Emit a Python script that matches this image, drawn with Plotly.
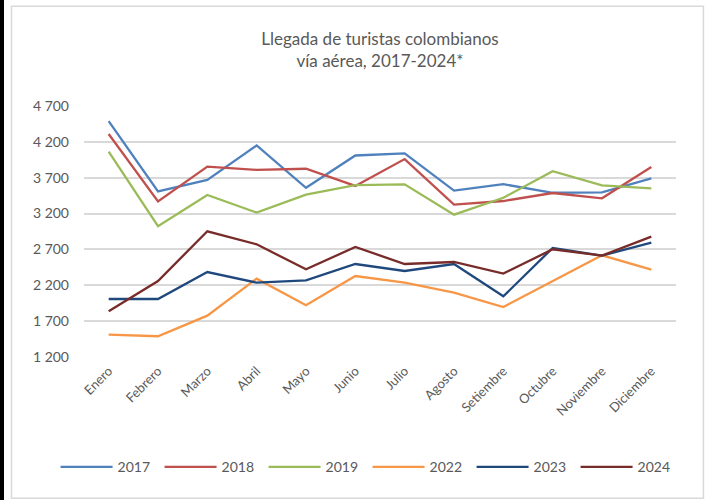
import plotly.graph_objects as go

months = ["Enero", "Febrero", "Marzo", "Abril", "Mayo", "Junio", "Julio",
          "Agosto", "Setiembre", "Octubre", "Noviembre", "Diciembre"]

y2017 = [4490, 3510, 3670, 4150, 3560, 4010, 4040, 3520, 3610, 3490, 3495, 3690]
y2018 = [4310, 3370, 3855, 3810, 3825, 3585, 3960, 3325, 3375, 3487, 3413, 3850]
y2019 = [4065, 3025, 3460, 3213, 3465, 3598, 3608, 3185, 3420, 3790, 3594, 3552]
y2022 = [1512, 1489, 1777, 2293, 1921, 2329, 2237, 2098, 1897, 2263, 2618, 2419]
y2023 = [2009, 2009, 2385, 2237, 2269, 2497, 2399, 2497, 2046, 2720, 2614, 2795]
y2024 = [1837, 2260, 2953, 2771, 2423, 2734, 2497, 2525, 2363, 2702, 2614, 2879]

series = [
    ("2017", y2017, "#4F81BD"),
    ("2018", y2018, "#C0504D"),
    ("2019", y2019, "#9BBB59"),
    ("2022", y2022, "#F79646"),
    ("2023", y2023, "#1F497D"),
    ("2024", y2024, "#772C2A"),
]

W, H = 711, 500
ML, MR, MT, MB = 84.4, 35.4, 105.7, 143.3
PW, PH = W - ML - MR, H - MT - MB

def px_x(x):
    return (x - ML) / PW

def px_y(y):
    return (H - MB - y) / PH

FONT = "Lato"
GRAY = "#595959"

fig = go.Figure()
for name, vals, col in series:
    fig.add_trace(go.Scatter(x=months, y=vals, name=name, mode="lines",
                             line=dict(color=col, width=2.3)))

fig.update_layout(
    width=W, height=H,
    margin=dict(l=ML, r=MR, t=MT, b=MB, autoexpand=False),
    paper_bgcolor="white", plot_bgcolor="white",
    separators=", ",
    font=dict(family=FONT, size=14, color=GRAY),
    title=dict(text="Llegada de turistas colombianos<br>vía aérea, 2017-2024*",
               x=0.5, xanchor="center", xref="paper",
               y=1 - 45 / H, yanchor="middle",
               font=dict(family=FONT, size=17, color=GRAY)),
    showlegend=True,
    legend=dict(orientation="h", x=px_x(56), xanchor="left", xref="paper",
                y=px_y(467), yref="paper", yanchor="middle",
                font=dict(family=FONT, size=14, color=GRAY),
                itemwidth=52, entrywidth=37, entrywidthmode="pixels",
                traceorder="normal"),
    xaxis=dict(showgrid=False, showline=False, ticks="", tickangle=-45,
               range=[-0.5, len(months) - 0.5],
               tickfont=dict(family=FONT, size=13, color=GRAY),
               ticklabelstandoff=3, fixedrange=True),
    yaxis=dict(range=[1200, 4700], dtick=500, tick0=1200, tickformat=",d",
               showgrid=True, gridcolor="#D9D9D9", gridwidth=1.5,
               zeroline=False, showline=False, ticks="",
               ticklabelstandoff=14, fixedrange=True,
               tickfont=dict(family=FONT, size=14, color=GRAY)),
    shapes=[
        dict(type="rect", xref="paper", yref="paper",
             x0=px_x(12), x1=px_x(703), y0=px_y(498), y1=px_y(6),
             line=dict(color="#D9D9D9", width=1.5), fillcolor="rgba(0,0,0,0)",
             layer="below"),
        dict(type="rect", xref="paper", yref="paper",
             x0=px_x(0), x1=px_x(4), y0=px_y(500), y1=px_y(0),
             line=dict(width=0), fillcolor="black", layer="above"),
    ],
)

post = (
    "document.body.style.margin='0';"
    "var d=document.createElement('div');"
    "d.style.cssText='position:fixed;left:0;top:0;width:4px;height:100%;"
    "background:#000;z-index:1000';"
    "document.body.appendChild(d);"
)

fig.write_html("out.html", config={"displayModeBar": False}, post_script=post)
